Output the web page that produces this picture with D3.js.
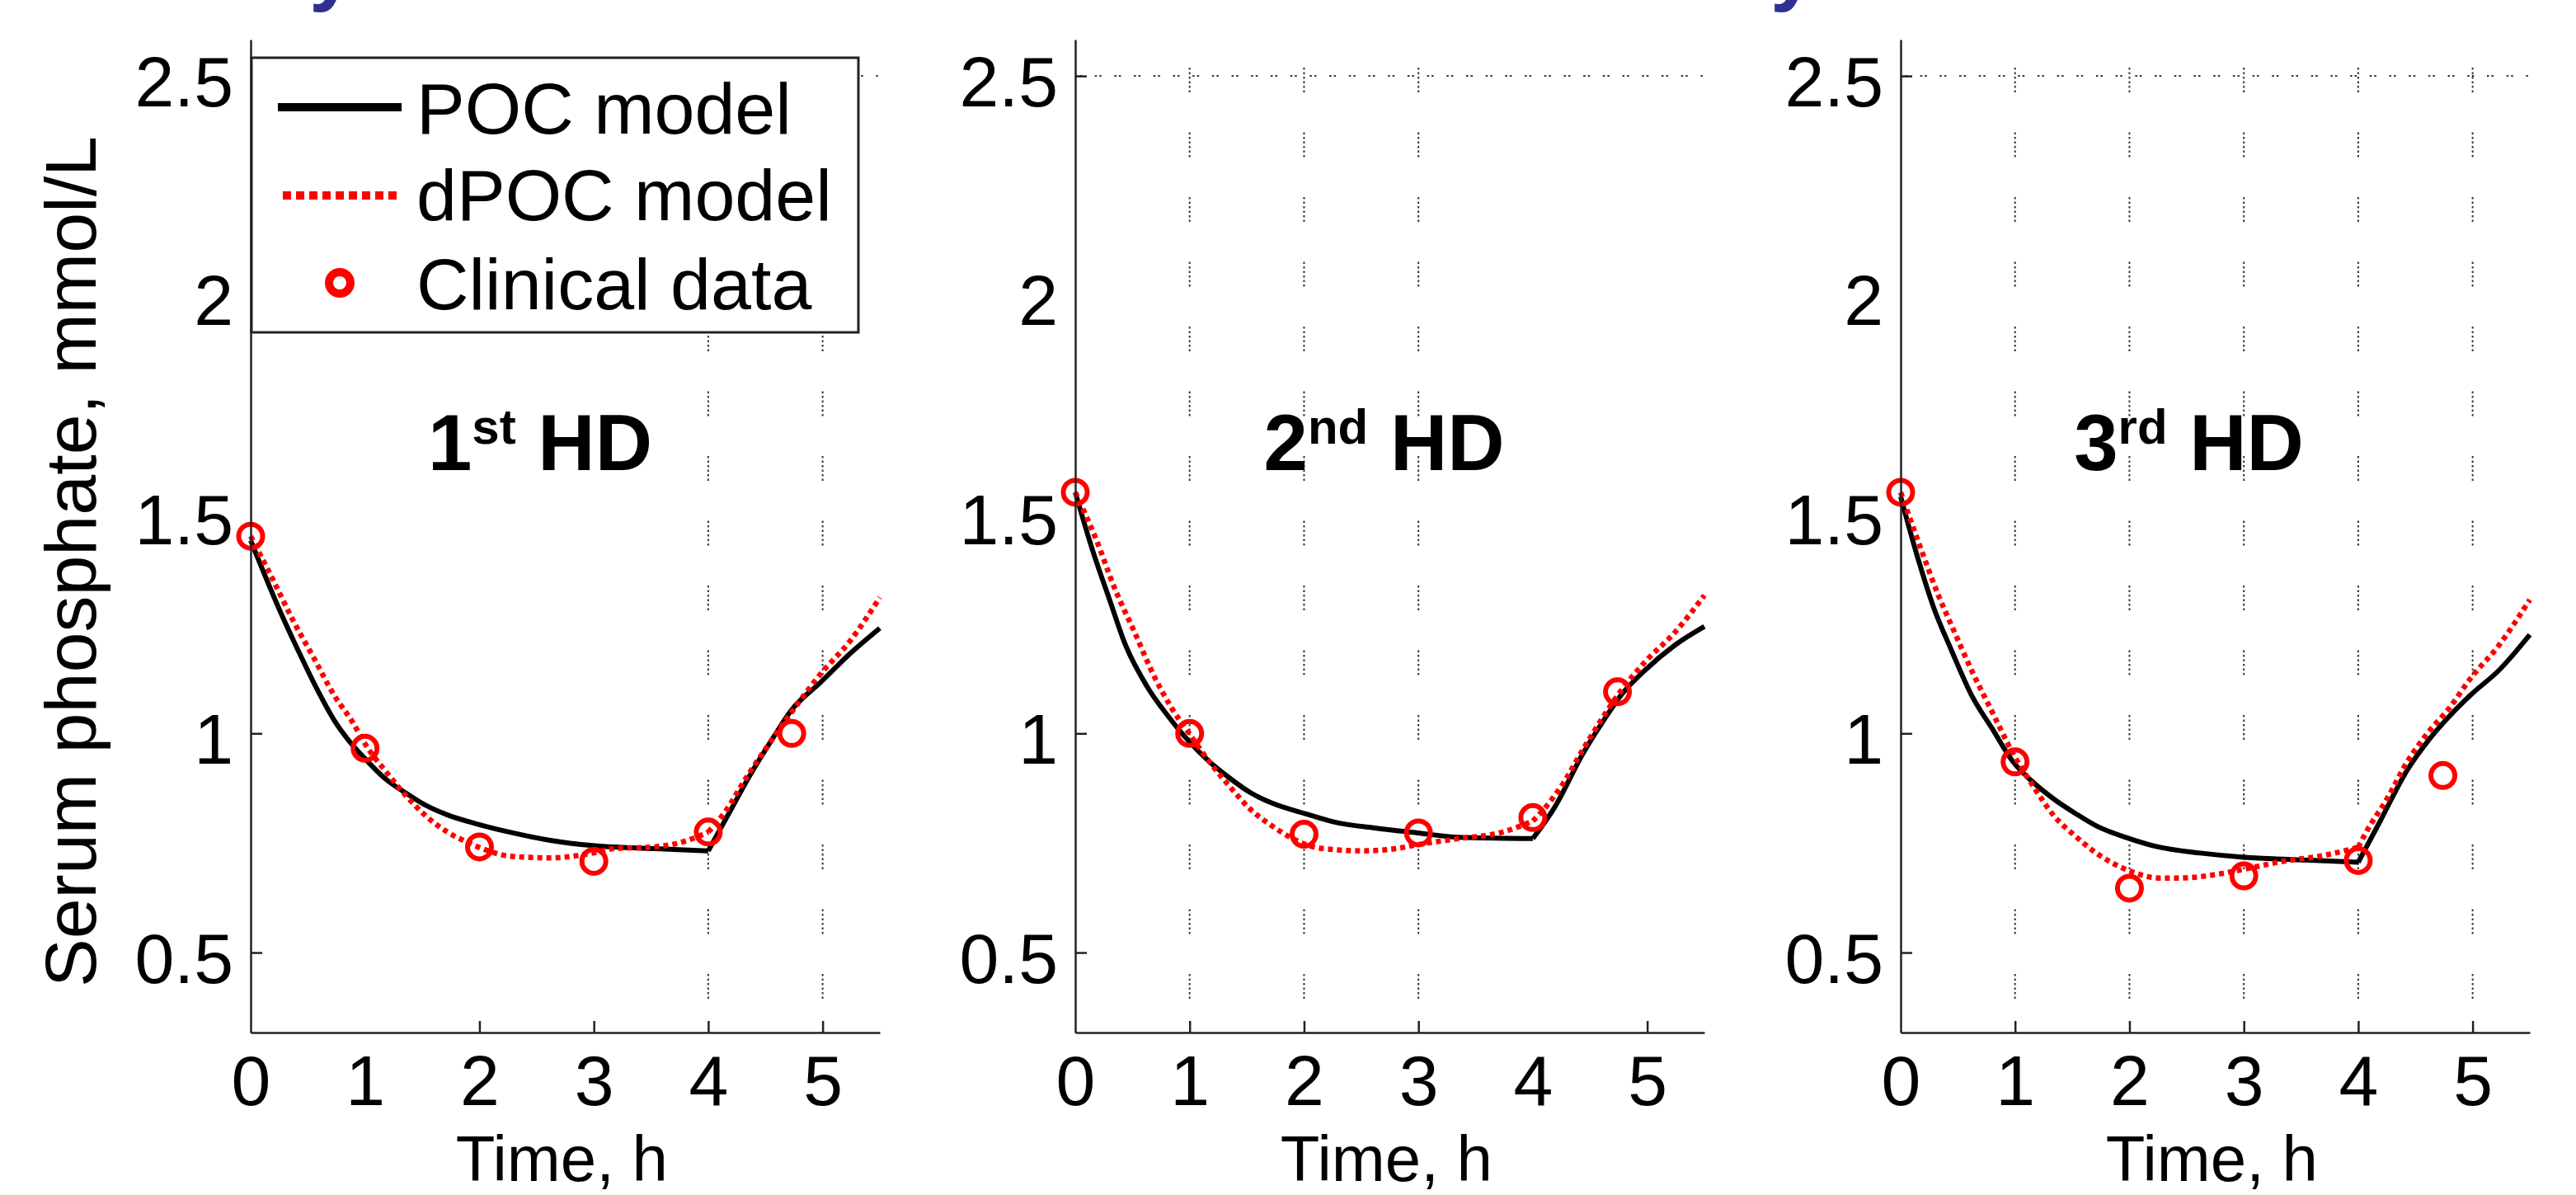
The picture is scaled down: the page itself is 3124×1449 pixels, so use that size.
<!DOCTYPE html>
<html>
<head>
<meta charset="utf-8">
<script src="https://cdn.jsdelivr.net/npm/d3@7"></script>
<style>
    body { margin: 0; background: #fff; }
    svg { display: block; font-family: "Liberation Sans", Arial, sans-serif; }
    .axis path, .axis line { stroke: #222; stroke-width: 2.5; }
    .axis text { font-size: 86px; fill: #000; font-family: "Liberation Sans", Arial, sans-serif; }
    .grid { stroke: #333; stroke-width: 2; fill: none; }
    .poc { fill: none; stroke: #000; stroke-width: 6; stroke-linejoin: round; }
    .dpoc { fill: none; stroke: #ff0000; stroke-width: 6.5; stroke-dasharray: 6 5; }
    .dot { fill: none; stroke: #ff0000; stroke-width: 6; }
    .label { font-size: 88px; fill: #000; }
    .title { font-size: 96px; font-weight: bold; fill: #000; white-space: pre; }
</style>
</head>
<body>
<svg id="chart" width="3124" height="1449"></svg>
<script>
// serum phosphate (mmol/L) against time (h), three HD sessions
const sessions = ['1', '2', '3'];
const suffixes = ['st', 'nd', 'rd'];

const clinical1 = [[0, 1.45], [1, 0.966], [2, 0.741], [3, 0.708], [4, 0.775], [4.73, 1.0]];
const clinical2 = [[0, 1.55], [1, 1.0], [2, 0.77], [3, 0.773], [4, 0.808], [4.74, 1.095]];
const clinical3 = [[0, 1.55], [1, 0.935], [2, 0.647], [3, 0.675], [4, 0.71], [4.74, 0.904]];

const poc1 = [[0, 1.44], [0.26, 1.277], [0.41, 1.192], [0.57, 1.106], [0.73, 1.03], [0.86, 0.983],
    [0.99, 0.945], [1.17, 0.898], [1.35, 0.865], [1.53, 0.836], [1.72, 0.814], [1.97, 0.794],
    [2.26, 0.775], [2.62, 0.756], [2.99, 0.744], [3.53, 0.737], [4, 0.732], [4.19, 0.822],
    [4.37, 0.907], [4.55, 0.983], [4.73, 1.054], [4.98, 1.116], [5.24, 1.182], [5.5, 1.24]];
const poc2 = [[0, 1.55], [0.15, 1.419], [0.3, 1.305], [0.44, 1.201], [0.63, 1.106], [0.81, 1.04],
    [0.99, 0.983], [1.17, 0.936], [1.35, 0.898], [1.53, 0.865], [1.72, 0.841], [2.01, 0.817],
    [2.26, 0.798], [2.62, 0.784], [2.99, 0.773], [3.35, 0.763], [4, 0.76], [4.19, 0.831],
    [4.44, 0.955], [4.62, 1.03], [4.77, 1.087], [4.98, 1.144], [5.24, 1.201], [5.5, 1.244]];
const poc3 = [[0, 1.54], [0.15, 1.4], [0.29, 1.286], [0.44, 1.192], [0.62, 1.087], [0.8, 1.011],
    [0.98, 0.936], [1.16, 0.888], [1.34, 0.85], [1.53, 0.817], [1.71, 0.789], [2.0, 0.76],
    [2.25, 0.741], [2.62, 0.727], [2.98, 0.718], [3.34, 0.713], [4, 0.706], [4.18, 0.794],
    [4.43, 0.917], [4.61, 0.983], [4.8, 1.04], [4.98, 1.087], [5.23, 1.144], [5.5, 1.225]];

const dpoc1 = [[0, 1.45], [0.19, 1.353], [0.37, 1.258], [0.55, 1.173], [0.73, 1.087], [0.88, 1.03],
    [1.03, 0.964], [1.17, 0.917], [1.35, 0.86], [1.53, 0.812], [1.72, 0.775], [1.9, 0.751],
    [2.08, 0.732], [2.26, 0.72], [2.62, 0.716], [2.99, 0.727], [3.17, 0.737], [3.53, 0.741],
    [3.82, 0.756], [4, 0.775], [4.15, 0.822], [4.33, 0.898], [4.55, 0.983], [4.73, 1.049],
    [4.98, 1.135], [5.24, 1.211], [5.5, 1.31]];
const dpoc2 = [[0, 1.55], [0.19, 1.438], [0.34, 1.334], [0.52, 1.23], [0.7, 1.125], [0.84, 1.059],
    [0.99, 1.002], [1.17, 0.936], [1.35, 0.879], [1.53, 0.827], [1.72, 0.789], [1.9, 0.76],
    [2.08, 0.741], [2.26, 0.735], [2.51, 0.732], [2.8, 0.737], [2.99, 0.746], [3.35, 0.76],
    [3.71, 0.773], [4, 0.8], [4.08, 0.822], [4.26, 0.884], [4.44, 0.964], [4.62, 1.04],
    [4.77, 1.097], [4.98, 1.163], [5.24, 1.23], [5.5, 1.315]];
const dpoc3 = [[0, 1.55], [0.18, 1.419], [0.33, 1.315], [0.44, 1.249], [0.62, 1.144], [0.8, 1.049],
    [0.98, 0.955], [1.16, 0.879], [1.34, 0.812], [1.53, 0.765], [1.71, 0.727], [1.89, 0.699],
    [2.07, 0.68], [2.25, 0.67], [2.43, 0.67], [2.8, 0.68], [2.98, 0.689], [3.34, 0.708],
    [3.71, 0.722], [4, 0.74], [4.07, 0.775], [4.25, 0.85], [4.43, 0.936], [4.61, 1.002],
    [4.8, 1.059], [4.98, 1.125], [5.23, 1.201], [5.5, 1.305]];

const xTicks = [0, 1, 2, 3, 4, 5];
const yTicks = [0.5, 1, 1.5, 2, 2.5];
// which tick marks / grid lines survive in each panel of the source
const xTickMarks = [[2, 3, 4, 5], [1, 2, 3, 5], [1, 2, 3, 4, 5]];
const xGridLines = [[4, 5], [1, 2, 3], [1, 2, 3, 4, 5]];
const yTickMarks = [0.5, 1, 2.5];
const legendLabels = ['POC model', 'dPOC model', 'Clinical data'];

const clinical = [clinical1, clinical2, clinical3];
const poc = [poc1, poc2, poc3];
const dpoc = [dpoc1, dpoc2, dpoc3];

// layout
const panelLeft = [304, 1304, 2305];
const panelWidth = 763;
const titleAt = [2.53, 2.70, 2.52];

const svg = d3.select('#chart');

const x = d3.scaleLinear().domain([0, 5.5]).range([0, panelWidth]);
const y = d3.scaleLinear().domain([0.3175, 2.583]).range([1252, 48]);

const line = d3.line()
    .x(d => x(d[0]))
    .y(d => y(d[1]))
    .curve(d3.curveMonotoneX);

// dialysis phase and rebound phase drawn separately so the kink at 4 h stays sharp
const split = s => [s.filter(d => d[0] <= 4), s.filter(d => d[0] >= 4)];

sessions.forEach((s, i) => {
    const g = svg.append('g').attr('transform', `translate(${panelLeft[i]},0)`);

    // grid lines
    g.selectAll('.vgrid')
        .data(xGridLines[i])
        .enter()
        .append('line')
        .attr('class', 'grid')
        .attr('x1', d => x(d)).attr('x2', d => x(d))
        .attr('y1', y.range()[1]).attr('y2', y.range()[0])
        .attr('stroke-dasharray', '2.5 3 2.5 3 2.5 3 2.5 3 2.5 3 2.5 48.5')
        .attr('stroke-dashoffset', 44.5);

    g.append('line')
        .attr('class', 'grid')
        .attr('x1', 0).attr('x2', panelWidth)
        .attr('y1', y(2.5)).attr('y2', y(2.5))
        .attr('stroke-dasharray', '2.5 3 2.5 15.7');

    // model curves
    split(poc[i]).forEach(part => {
        g.append('path').attr('class', 'poc').attr('d', line(part));
    });
    split(dpoc[i]).forEach(part => {
        g.append('path').attr('class', 'dpoc').attr('d', line(part));
    });

    // clinical data
    g.selectAll('.dot')
        .data(clinical[i])
        .enter()
        .append('circle')
        .attr('class', 'dot')
        .attr('cx', d => x(d[0]))
        .attr('cy', d => y(d[1]))
        .attr('r', 14.5);

    // session title
    const title = g.append('text')
        .attr('class', 'title')
        .attr('text-anchor', 'middle')
        .attr('x', x(titleAt[i]))
        .attr('y', y(1.6));
    title.append('tspan').text(s);
    title.append('tspan').attr('dy', -32).style('font-size', '60px').text(suffixes[i]);
    title.append('tspan').attr('dy', 32).text(' HD');

    // Y axis
    const yAxis = g.append('g')
        .attr('class', 'axis')
        .call(d3.axisLeft(y).tickValues(yTicks).tickFormat(d => String(d))
            .tickSizeInner(-14).tickSizeOuter(0).tickPadding(21));
    yAxis.selectAll('.tick line').filter(d => !yTickMarks.includes(d)).remove();
    yAxis.selectAll('text').attr('dy', '0.42em');

    // X axis
    const xAxis = g.append('g')
        .attr('class', 'axis')
        .attr('transform', `translate(0,${y.range()[0]})`)
        .call(d3.axisBottom(x).tickValues(xTicks).tickFormat(d => String(d))
            .tickSizeInner(-14).tickSizeOuter(0).tickPadding(27));
    xAxis.selectAll('.tick line').filter(d => !xTickMarks[i].includes(d)).remove();

    // X axis label
    g.append('text')
        .attr('class', 'label')
        .style('font-size', '78px')
        .attr('text-anchor', 'middle')
        .attr('x', x(2.72))
        .attr('y', 1432)
        .text('Time, h');

    // legend in first panel
    if (i === 0) {
        const lg = g.append('g');
        lg.append('rect')
            .attr('x', 1).attr('y', 70)
            .attr('width', 736).attr('height', 333)
            .attr('fill', '#fff')
            .attr('stroke', '#222')
            .attr('stroke-width', 3);

        lg.append('line')
            .attr('x1', 33).attr('x2', 183)
            .attr('y1', 130).attr('y2', 130)
            .attr('stroke', '#000').attr('stroke-width', 10);
        lg.append('line')
            .attr('x1', 39).attr('x2', 183)
            .attr('y1', 237).attr('y2', 237)
            .attr('stroke', '#ff0000').attr('stroke-width', 10)
            .attr('stroke-dasharray', '10 6');
        lg.append('circle')
            .attr('cx', 108).attr('cy', 343).attr('r', 13)
            .attr('fill', 'none').attr('stroke', '#ff0000').attr('stroke-width', 10);

        lg.selectAll('.legend-text')
            .data(legendLabels)
            .enter()
            .append('text')
            .attr('class', 'label')
            .attr('x', 201)
            .attr('y', (d, k) => [162, 267, 375][k])
            .text(d => d);
    }
});

// Y axis label
svg.append('text')
    .attr('class', 'label')
    .attr('text-anchor', 'middle')
    .attr('transform', 'translate(116,681) rotate(-90)')
    .text('Serum phosphate, mmol/L');

// remnants of a heading cut off at the top edge
[375, 2147].forEach(px => {
    svg.append('text')
        .attr('x', px)
        .attr('y', -6)
        .style('font-size', '100px')
        .style('font-weight', 'bold')
        .style('fill', '#2e3192')
        .text('y');
});
</script>
</body>
</html>
